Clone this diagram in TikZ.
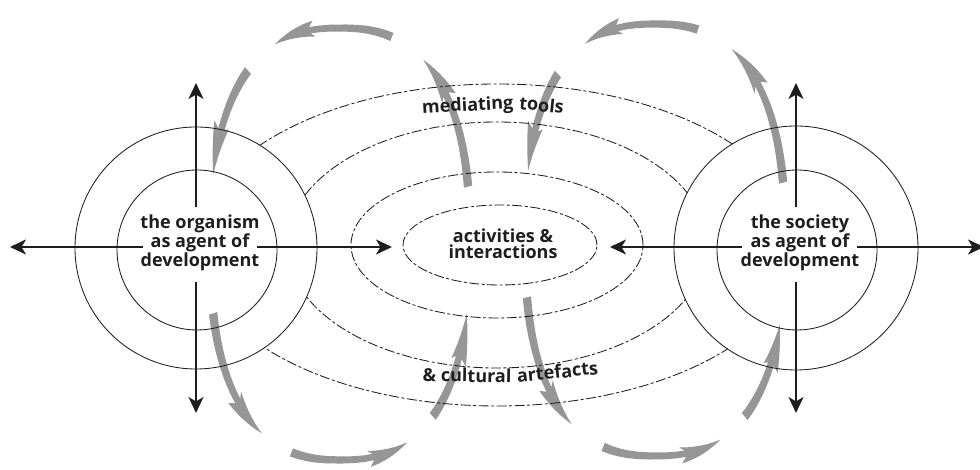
\documentclass[tikz,border=0pt]{standalone}
\usepackage{fontspec}
\setmainfont{Open Sans}
\usetikzlibrary{arrows.meta}
\definecolor{arrowgray}{RGB}{150,150,150}
\definecolor{ink}{RGB}{30,30,30}
\newcommand\lblfont{\fontsize{18}{15}\selectfont\bfseries}
\newcommand\midfont{\fontsize{18}{16.5}\selectfont\bfseries}
\newcommand\arcfont{\fontsize{18}{15}\selectfont\bfseries}
\newcommand\garrow[2]{%
  \fill[arrowgray]
    plot[domain=0:0.64,samples=9,variable=\s]
      ({px(#1+\s*(#2-#1),4.2-1.6*\s)},{py(#1+\s*(#2-#1),4.2-1.6*\s)})
    -- plot[domain=0.6:1,samples=7,variable=\s]
      ({px(#1+\s*(#2-#1),22.5*(1-\s))},{py(#1+\s*(#2-#1),22.5*(1-\s))})
    -- plot[domain=1:0.6,samples=7,variable=\s]
      ({px(#1+\s*(#2-#1),-17.5*(1-\s))},{py(#1+\s*(#2-#1),-17.5*(1-\s))})
    -- plot[domain=0.64:0,samples=9,variable=\s]
      ({px(#1+\s*(#2-#1),-4.2+1.6*\s)},{py(#1+\s*(#2-#1),-4.2+1.6*\s)})
    -- cycle;}
\tikzset{
  ring/.style={draw=ink, line width=0.85pt},
  dashring/.style={draw=ink, line width=0.85pt, dash pattern=on 10pt off 2.5pt on 3pt off 2.5pt},
  blk/.style={draw=ink, line width=2pt, -{Stealth[length=16pt,width=15pt,inset=4.5pt]}},
  lbl/.style={font=\lblfont, text=ink, align=center, inner sep=0pt},
  arclbl/.style={font=\arcfont, text=ink, inner sep=0pt, anchor=base}
}
\begin{document}
\begin{tikzpicture}[x=1pt,y=1pt,
  declare function={
    px(\t,\d)=(130+\d)*cos(\t)*pow(abs(cos(\t))+0.0001,-0.2);
    py(\t,\d)=(216+\d)*sin(\t)*pow(abs(sin(\t))+0.0001,-0.2);
  }]
\useasboundingbox (0,0) rectangle (980,470);
\fill[white] (0,0) rectangle (980,470);

% grey cycle arrows (left cycle)
\begin{scope}[shift={(340,226)}]
  \garrow{71.5}{115}
  \garrow{130.5}{166}
  \garrow{194}{238}
  \garrow{253}{296}
  \garrow{311}{346}
  \garrow{11}{55}
\end{scope}
% grey cycle arrows (right cycle)
\begin{scope}[shift={(655,230)}]
  \garrow{75.5}{117.5}
  \garrow{134}{166}
  \garrow{191}{235}
  \garrow{251.5}{295}
  \garrow{309}{342}
  \garrow{11}{59}
\end{scope}

% circles
\draw[ring] (196,222) circle[radius=121];
\draw[ring] (197,220) circle[radius=80];
\draw[ring] (796,222) circle[radius=122];
\draw[ring] (797,220) circle[radius=80];

% ellipses (outer two hidden inside the circles)
\begin{scope}[even odd rule]
  \clip (0,0) rectangle (980,470)
    (196,222) circle[radius=121] (796,222) circle[radius=122];
  \draw[dashring] (497,225) ellipse[x radius=302, y radius=161];
  \draw[dashring] (497,225) ellipse[x radius=210, y radius=123];
\end{scope}
\draw[dashring] (497,225) ellipse[x radius=146, y radius=73];
\draw[dashring] (500,225) ellipse[x radius=97, y radius=40];

% texts
\node[lbl] (org) at (200,227) {the organism\\as agent of\\development};
\node[lbl] (soc) at (800,227) {the society\\as agent of\\development};
\node[lbl, font=\midfont] (act) at (503,226) {activities \&\\interactions};
\node[arclbl, rotate=3] (med1) at (468,359) {mediating};
\node[arclbl, rotate=-6] (med2) at (541,358.5) {tools};
\node[arclbl, rotate=-1] (cul1) at (467,88) {\& cultural};
\node[arclbl, rotate=6] (cul2) at (558,91.5) {artefacts};

% black arrows
\coordinate (lL) at (143,223); \coordinate (lR) at (257,223);
\coordinate (lU) at (196,263); \coordinate (lD) at (196,188);
\coordinate (lLt) at (10,223); \coordinate (lRt) at (392,223);
\coordinate (lUt) at (196,387); \coordinate (lDt) at (196,57);
\coordinate (rL) at (742,223); \coordinate (rR) at (857,223);
\coordinate (rU) at (796,263); \coordinate (rD) at (796,188);
\coordinate (rLt) at (610,223); \coordinate (rRt) at (984,223);
\coordinate (rUt) at (796,387); \coordinate (rDt) at (796,57);
\draw[blk] (lL) -- (lLt);
\draw[blk] (lR) -- (lRt);
\draw[blk] (lU) -- (lUt);
\draw[blk] (lD) -- (lDt);
\draw[blk] (rL) -- (rLt);
\draw[blk] (rR) -- (rRt);
\draw[blk] (rU) -- (rUt);
\draw[blk] (rD) -- (rDt);
\end{tikzpicture}
\end{document}
